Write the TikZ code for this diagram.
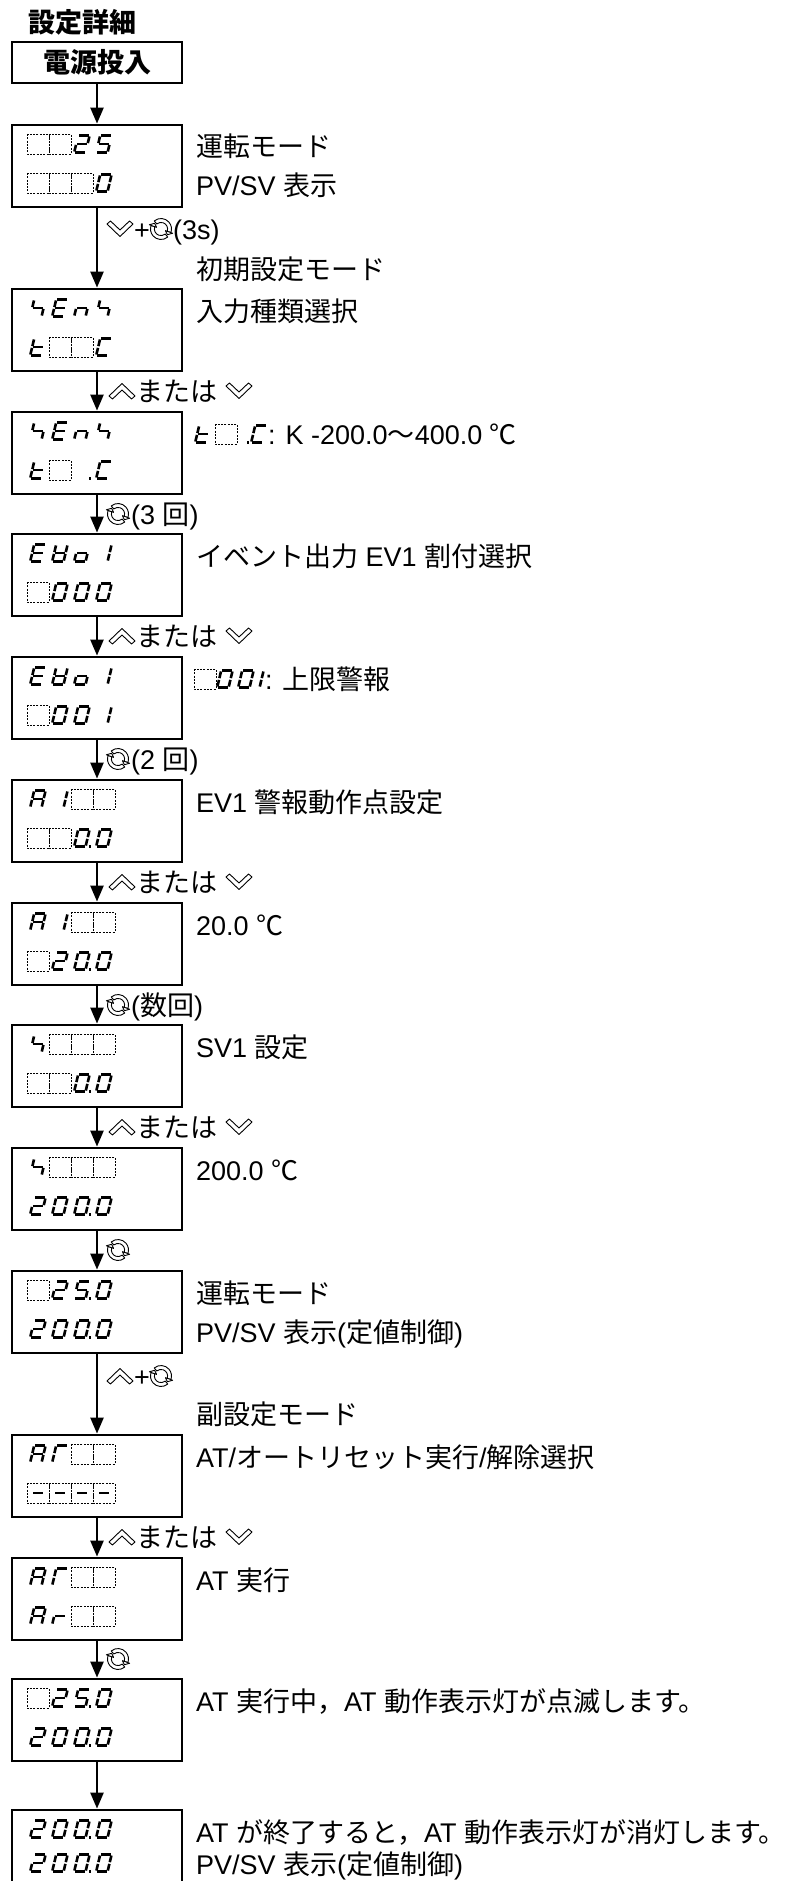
\documentclass[tikz,border=0pt]{standalone}
\usepackage{fontspec}
\setmainfont{Liberation Sans}
\newfontfamily\jp{Noto Sans CJK JP}
\usetikzlibrary{arrows.meta}
\newcommand\fs{\fontsize{27pt}{32pt}\selectfont}
\makeatletter
\tikzset{
  box/.style={draw, line width=2.8pt, minimum width=170pt, minimum height=82pt, inner sep=0pt},
  arr/.style={line width=2.4pt, -{Triangle[width=13pt,length=16pt]}},
  lab/.style={anchor=base west, inner sep=0pt, font=\fs},
  cellline/.style={line width=0.8pt, dash pattern=on 2pt off 1.3pt},
  segline/.style={line width=2.6pt, shorten <=0.9pt, shorten >=0.9pt},
  chev/.style={line width=0.9pt, fill=white, line join=round},
  dig/.pic={
    \in@{x}{#1}\ifin@\draw[cellline] (0,0) rectangle (22,20);\fi
    \in@{a}{#1}\ifin@\draw[segline] (7.2,1.6) -- (18.6,1.6);\fi
    \in@{b}{#1}\ifin@\draw[segline] (18.6,1.6) -- (16.6,10);\fi
    \in@{c}{#1}\ifin@\draw[segline] (16.6,10) -- (14.6,18.4);\fi
    \in@{d}{#1}\ifin@\draw[segline] (3.2,18.4) -- (14.6,18.4);\fi
    \in@{e}{#1}\ifin@\draw[segline] (5.2,10) -- (3.2,18.4);\fi
    \in@{f}{#1}\ifin@\draw[segline] (7.2,1.6) -- (5.2,10);\fi
    \in@{g}{#1}\ifin@\draw[segline] (5.2,10) -- (16.6,10);\fi
    \in@{p}{#1}\ifin@\fill (17.6,16.6) rectangle (20.4,19.6);\fi
  },
  upchev/.pic={\draw[chev] (0,5) -- (13,-7.5) -- (26,5) -- (22.5,8) -- (13,-1) -- (3.5,8) -- cycle;},
  dnchev/.pic={\draw[chev] (0,-5) -- (13,7.5) -- (26,-5) -- (22.5,-8) -- (13,1) -- (3.5,-8) -- cycle;},
  rotsym/.pic={
    \foreach \a in {0,180}{
      \draw[chev] (\a+50:10.5) arc[start angle=\a+50, end angle=\a+200, radius=10.5] -- (\a+200:6.6) arc[start angle=\a+200, end angle=\a+50, radius=6.6] -- cycle;
      \draw[chev] (\a+200:12.4) -- (\a+222:8.55) -- (\a+200:4.7) -- cycle;
    }
  },
}
\makeatother
\newcommand\drow[5]{\pic at (27,#1) {dig=#2}; \pic at (49,#1) {dig=#3}; \pic at (71,#1) {dig=#4}; \pic at (93,#1) {dig=#5};}
\newcommand\orlab[2]{\pic at (109,#2) {upchev}; \node[lab] (#1) at (136,#2+10) {\jp または}; \pic at (226,#2) {dnchev};}
\newcommand\rotlab[3]{\pic at (118,#2) {rotsym}; \node[lab] (#1) at (131,#2+10) {#3};}
\begin{document}
\begin{tikzpicture}[x=1pt,y=-1pt]
\useasboundingbox (0,0) rectangle (806,1881);
\clip (0,0) rectangle (806,1881);
\fill[white] (0,0) rectangle (806,1881);
% title and start box
\node[lab, font=\fs\jp\bfseries] (title) at (28,33) {設定詳細};
\node[box, minimum height=41pt, font=\fs\jp\bfseries] (b0) at (97,62.5) {電源投入};
% display boxes
\node[box] (b1) at (97,166) {};
\node[box] (b2) at (97,330) {};
\node[box] (b3) at (97,453) {};
\node[box] (b4) at (97,575) {};
\node[box] (b5) at (97,698) {};
\node[box] (b6) at (97,821) {};
\node[box] (b7) at (97,944) {};
\node[box] (b8) at (97,1066) {};
\node[box] (b9) at (97,1189) {};
\node[box] (b10) at (97,1312) {};
\node[box] (b11) at (97,1476) {};
\node[box] (b12) at (97,1599) {};
\node[box] (b13) at (97,1720) {};
\node[box] (b14) at (97,1851) {};
\foreach \i/\j in {0/1,1/2,2/3,3/4,4/5,5/6,6/7,7/8,8/9,9/10,10/11,11/12,12/13,13/14}
  \draw[arr] (b\i.south) -- (b\j.north);
% box 1
\drow{134}{x}{x}{abged}{afgcd}
\drow{173}{x}{x}{x}{abcdef}
\node[lab] (t1a) at (196,157) {\jp 運転モード};
\node[lab] (t1b) at (196,196) {PV/SV {\jp 表示}};
\pic at (107,229) {dnchev};
\node[lab] (l1a) at (134,239) {+};
\pic at (161,229) {rotsym};
\node[lab] (l1b) at (173,239) {(3s)};
\node[lab] (m1) at (196,279) {\jp 初期設定モード};
% box 2
\drow{298}{fgc}{afged}{ceg}{fgc}
\drow{337}{defg}{x}{x}{adef}
\node[lab] (t2) at (196,321) {\jp 入力種類選択};
\orlab{l2}{391}
% box 3
\drow{421}{fgc}{afged}{ceg}{fgc}
\drow{460}{defg}{x}{p}{adef}
\pic at (192,424) {dig=defg};
\pic at (215,424) {dig=x};
\pic at (229,424) {dig=p};
\pic at (248,424) {dig=adef};
\node[lab] (t3) at (268,444) {: K -200.0{\jp ～}400.0 {\jp ℃}};
\rotlab{l3}{514}{(3 {\jp 回})}
% box 4
\drow{543}{afged}{bcdefg}{cdeg}{bc}
\drow{582}{x}{abcdef}{abcdef}{abcdef}
\node[lab] (t4) at (196,566) {{\jp イベント出力} EV1 {\jp 割付選択}};
\orlab{l4}{636}
% box 5
\drow{666}{afged}{bcdefg}{cdeg}{bc}
\drow{705}{x}{abcdef}{abcdef}{bc}
\pic at (194,669) {dig=x};
\pic at (214,669) {dig=abcdef};
\pic at (235,669) {dig=abcdef};
\pic at (245,669) {dig=bc};
\node[lab] (t5) at (265,689) {: {\jp 上限警報}};
\rotlab{l5}{759}{(2 {\jp 回})}
% box 6
\drow{789}{abcefg}{bc}{x}{x}
\drow{828}{x}{x}{abcdefp}{abcdef}
\node[lab] (t6) at (196,812) {EV1 {\jp 警報動作点設定}};
\orlab{l6}{882}
% box 7
\drow{912}{abcefg}{bc}{x}{x}
\drow{951}{x}{abged}{abcdefp}{abcdef}
\node[lab] (t7) at (196,935) {20.0 {\jp ℃}};
\rotlab{l7}{1005}{({\jp 数回})}
% box 8
\drow{1034}{fgc}{x}{x}{x}
\drow{1073}{x}{x}{abcdefp}{abcdef}
\node[lab] (t8) at (196,1057) {SV1 {\jp 設定}};
\orlab{l8}{1127}
% box 9
\drow{1157}{fgc}{x}{x}{x}
\drow{1196}{abged}{abcdef}{abcdefp}{abcdef}
\node[lab] (t9) at (196,1180) {200.0 {\jp ℃}};
\pic at (118,1250) {rotsym};
% box 10
\drow{1280}{x}{abged}{afgcdp}{abcdef}
\drow{1319}{abged}{abcdef}{abcdefp}{abcdef}
\node[lab] (t10a) at (196,1303) {\jp 運転モード};
\node[lab] (t10b) at (196,1342) {PV/SV {\jp 表示}({\jp 定値制御})};
\pic at (107,1376) {upchev};
\node[lab] (l10a) at (134,1386) {+};
\pic at (161,1376) {rotsym};
\node[lab] (m2) at (196,1424) {\jp 副設定モード};
% box 11
\drow{1444}{abcefg}{aef}{x}{x}
\drow{1483}{xg}{xg}{xg}{xg}
\node[lab] (t11) at (196,1467) {AT/{\jp オートリセット実行}/{\jp 解除選択}};
\orlab{l11}{1537}
% box 12
\drow{1567}{abcefg}{aef}{x}{x}
\drow{1606}{abcefg}{eg}{x}{x}
\node[lab] (t12) at (196,1590) {AT {\jp 実行}};
\pic at (118,1659) {rotsym};
% box 13
\drow{1688}{x}{abged}{afgcdp}{abcdef}
\drow{1727}{abged}{abcdef}{abcdefp}{abcdef}
\node[lab] (t13) at (196,1711) {AT {\jp 実行中，}AT {\jp 動作表示灯が点滅します。}};
% box 14
\drow{1819}{abged}{abcdef}{abcdefp}{abcdef}
\drow{1853}{abged}{abcdef}{abcdefp}{abcdef}
\node[lab] (t14a) at (196,1842) {AT {\jp が終了すると，}AT {\jp 動作表示灯が消灯します。}};
\node[lab] (t14b) at (196,1874) {PV/SV {\jp 表示}({\jp 定値制御})};
\end{tikzpicture}
\end{document}
